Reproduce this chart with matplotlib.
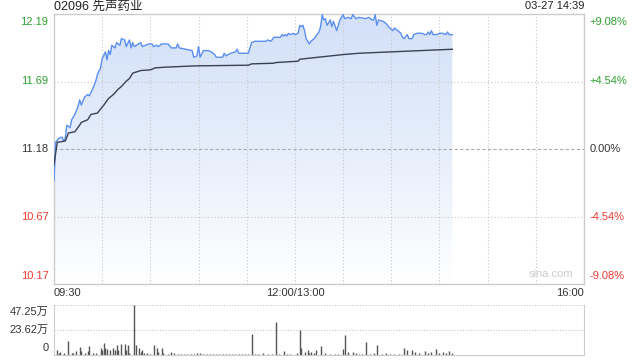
import numpy as np
import matplotlib
matplotlib.use("Agg")
import matplotlib.pyplot as plt
from matplotlib.colors import LinearSegmentedColormap

plt.rcParams['font.family'] = ['Liberation Sans', 'Noto Sans CJK SC', 'DejaVu Sans']

title = "02096 先声药业"
stamp = "03-27 14:39"
prev_close = 11.18

# minutes since 09:30 (lunch break removed), price
price_min = [0, 1, 3, 5, 6, 7, 8, 10, 11, 13, 15, 16, 17, 19, 21, 22, 24, 26, 27, 29,
             30, 32, 33, 34, 35, 36, 38, 39, 41, 42, 44, 45, 47, 48, 49, 50, 54, 55, 59, 61,
             62, 64, 65, 67, 69, 71, 73, 76, 77, 78, 82, 86, 87, 89, 90, 91, 93, 96, 98, 100,
             101, 105, 106, 107, 110, 113, 114, 115, 120, 121, 123, 125, 132, 133, 135, 137, 141, 142, 143, 144,
             145, 146, 147, 149, 150, 152, 153, 154, 155, 156, 157, 159, 160, 162, 165, 166, 167, 168, 169, 170,
             172, 173, 174, 176, 177, 178, 180, 181, 183, 185, 186, 188, 190, 194, 196, 198, 199, 200, 201, 202,
             205, 207, 209, 211, 212, 214, 216, 217, 218, 220, 221, 223, 224, 226, 229, 231, 232, 233, 234, 235,
             236, 238, 240, 242, 244, 245, 246, 248]
price = [10.94, 11.23, 11.26, 11.27, 11.24, 11.26, 11.36, 11.34, 11.40, 11.44, 11.50, 11.55, 11.51, 11.57, 11.59, 11.58, 11.63, 11.69, 11.74, 11.79,
         11.86, 11.91, 11.85, 11.92, 11.89, 11.96, 11.94, 11.98, 11.96, 12.01, 12.00, 11.95, 12.00, 11.94, 11.98, 11.95, 11.98, 11.95, 11.97, 11.97,
         11.95, 11.96, 11.95, 11.97, 11.97, 11.97, 11.94, 11.94, 11.97, 11.94, 11.93, 11.92, 11.87, 11.88, 11.95, 11.87, 11.92, 11.92, 11.91, 11.89,
         11.87, 11.87, 11.90, 11.88, 11.90, 11.91, 11.93, 11.90, 11.90, 11.90, 11.98, 11.99, 11.99, 12.00, 11.99, 12.02, 12.02, 12.04, 12.03, 12.04,
         12.03, 12.05, 12.04, 12.05, 12.04, 12.05, 12.11, 12.10, 12.11, 12.07, 12.01, 11.97, 11.99, 12.01, 12.06, 12.10, 12.19, 12.15, 12.16, 12.11,
         12.15, 12.10, 12.14, 12.07, 12.11, 12.15, 12.19, 12.16, 12.17, 12.16, 12.19, 12.16, 12.17, 12.16, 12.17, 12.15, 12.15, 12.19, 12.11, 12.15,
         12.14, 12.12, 12.09, 12.07, 12.09, 12.07, 12.05, 12.02, 12.01, 12.04, 12.01, 12.01, 12.04, 12.05, 12.05, 12.04, 12.04, 12.06, 12.04, 12.07,
         12.04, 12.04, 12.05, 12.05, 12.04, 12.06, 12.04, 12.04]

avg_min = [0, 2, 7, 9, 13, 16, 17, 21, 23, 27, 29, 31, 34, 37, 40, 42, 45, 47, 49, 54,
           60, 63, 69, 88, 121, 123, 137, 138, 152, 153, 180, 190, 248]
avg_price = [11.06, 11.23, 11.24, 11.30, 11.31, 11.36, 11.38, 11.40, 11.44, 11.45, 11.48, 11.51, 11.56, 11.59, 11.63, 11.65, 11.69, 11.71, 11.75, 11.77,
             11.775, 11.79, 11.795, 11.805, 11.81, 11.82, 11.825, 11.83, 11.84, 11.855, 11.89, 11.90, 11.93]

# volume in 万
vol_min = [2, 3, 4, 6, 9, 11, 12, 14, 16, 17, 19, 21, 22, 24, 26, 29, 30, 31, 32, 33,
           35, 37, 38, 39, 40, 42, 44, 45, 46, 47, 50, 51, 53, 54, 55, 56, 58, 60, 62, 64,
           65, 67, 68, 71, 73, 75, 77, 79, 81, 83, 85, 87, 89, 91, 93, 95, 97, 99, 101, 103,
           105, 107, 109, 111, 113, 115, 117, 119, 121, 123, 125, 127, 130, 133, 136, 138, 140, 143, 145, 147,
           151, 153, 154, 156, 158, 159, 160, 162, 163, 166, 169, 172, 175, 177, 180, 181, 183, 186, 188, 190,
           192, 194, 197, 199, 201, 204, 207, 209, 212, 215, 218, 220, 223, 225, 227, 231, 233, 235, 238, 240,
           242, 244, 246, 248]
vol = [4.4, 2.3, 2.5, 1.5, 13.2, 1.5, 1.5, 4.0, 7.6, 3.5, 1.8, 4.0, 8.5, 1.5, 2.0, 7.0, 5.0, 11.3, 7.0, 6.0,
       4.5, 7.0, 4.5, 9.4, 4.5, 10.6, 10.6, 4.5, 9.4, 2.0, 47.25, 9.4, 7.0, 3.0, 4.5, 2.0, 1.5, 1.0, 9.4, 6.2,
       3.0, 6.2, 1.5, 1.2, 3.2, 1.5, 0.8, 1.0, 0.7, 1.2, 0.8, 1.0, 1.5, 1.5, 0.8, 1.0, 0.7, 1.2, 1.0, 0.8,
       1.0, 1.2, 0.8, 1.0, 0.9, 1.0, 1.2, 0.8, 1.0, 20.0, 1.0, 1.2, 2.3, 1.0, 0.8, 31.0, 1.0, 3.5, 1.0, 1.2,
       2.3, 23.3, 6.6, 2.5, 4.4, 2.0, 2.5, 2.0, 4.4, 8.0, 2.0, 1.0, 1.2, 1.0, 6.0, 18.6, 3.0, 3.0, 1.5, 1.0,
       1.2, 12.3, 1.2, 1.5, 9.0, 1.2, 1.5, 1.0, 1.2, 1.0, 7.0, 4.4, 4.4, 3.0, 1.5, 3.5, 1.5, 3.0, 6.0, 1.5,
       3.0, 1.5, 4.0, 2.0]

price_ticks = [12.195, 11.6875, 11.18, 10.6725, 10.165]
price_labels = ["12.19", "11.69", "11.18", "10.67", "10.17"]
pct_labels = ["+9.08%", "+4.54%", "0.00%", "-4.54%", "-9.08%"]
vol_ticks = [47.25, 23.62, 0]
vol_labels = ["47.25万", "23.62万", "0"]

green = "#2ea12e"
red = "#ee3a32"
dark = "#333333"
tick_colors = [green, green, dark, red, red]

fig = plt.figure(figsize=(6.4, 3.6), dpi=100)
ax = fig.add_axes([54 / 640, 1 - 284 / 360, 530 / 640, 270 / 360])
vax = fig.add_axes([54 / 640, 1 - 355 / 360, 530 / 640, 50.3 / 360])

ymin, ymax = price_ticks[-1], price_ticks[0]
ax.set_xlim(0, 330)
ax.set_ylim(ymin, ymax)

# gradient fill under the price line
fill = ax.fill_between(price_min, price, ymin, color="none", lw=0)
cmap = LinearSegmentedColormap.from_list("g", ["#ffffff", "#e6eefb", "#d2e0f8"])
grad = np.linspace(0, 1, 256).reshape(-1, 1)
img = ax.imshow(grad, cmap=cmap, origin="lower", aspect="auto",
                extent=[0, 330, ymin, ymax], zorder=1)
img.set_clip_path(fill.get_paths()[0], transform=ax.transData)

ax.plot(price_min, price, color="#5b8ff0", lw=1.0, zorder=3)
ax.plot(avg_min, avg_price, color="#3a4152", lw=1.0, zorder=3)

# grid
for x in range(30, 330, 30):
    ax.axvline(x, color="#c8c8c8", lw=0.8, ls=(0, (1, 2)), zorder=2)
for y in price_ticks[1:-1]:
    if y == prev_close:
        ax.axhline(y, color="#aaaaaa", lw=0.8, ls=(0, (3, 2)), zorder=2)
    else:
        ax.axhline(y, color="#c8c8c8", lw=0.8, ls=(0, (1, 2)), zorder=2)

for s in ax.spines.values():
    s.set_color("#cccccc")
    s.set_linewidth(1)
ax.tick_params(length=0)
ax.set_xticks([])
ax.set_yticks([])

# left / right tick labels
for i, (v, lab, pl, c) in enumerate(zip(price_ticks, price_labels, pct_labels, tick_colors)):
    off = 0
    if i == 0:
        off = -6
    elif i == len(price_ticks) - 1:
        off = 6
    ax.annotate(lab, (0, v), xycoords=("axes fraction", "data"), xytext=(-4, off),
                textcoords="offset points", ha="right", va="center", color=c, fontsize=8)
    ax.annotate(pl, (1, v), xycoords=("axes fraction", "data"), xytext=(4, off),
                textcoords="offset points", ha="left", va="center", color=c, fontsize=8)

# x labels
ax.text(0, -0.033, "09:30", transform=ax.transAxes, ha="left", va="center", fontsize=8, color=dark)
ax.text(150 / 330, -0.033, "12:00/13:00", transform=ax.transAxes, ha="center", va="center", fontsize=8, color=dark)
ax.text(1, -0.033, "16:00", transform=ax.transAxes, ha="right", va="center", fontsize=8, color=dark)

ax.text(0, 1.028, title, transform=ax.transAxes, ha="left", va="center", fontsize=9, color="#222222")
ax.text(1, 1.028, stamp, transform=ax.transAxes, ha="right", va="center", fontsize=8, color="#222222")
ax.text(0.98, 0.02, "sina.com", transform=ax.transAxes, ha="right", va="bottom", fontsize=8, color="#cccccc")

# volume panel
vax.set_xlim(0, 330)
vax.set_ylim(0, 47.25)
vax.vlines(vol_min, 0, vol, color="#555555", lw=1.0)
for y in vol_ticks[:-1]:
    vax.axhline(y, color="#c8c8c8", lw=0.8, ls=(0, (1, 1.5)), zorder=0)
for s in vax.spines.values():
    s.set_color("#cccccc")
vax.spines["top"].set_visible(False)
vax.set_xticks([])
vax.set_yticks([])
for i, (v, lab) in enumerate(zip(vol_ticks, vol_labels)):
    off = 0
    if i == 0:
        off = -5
    elif i == len(vol_ticks) - 1:
        off = 5
    vax.annotate(lab, (0, v), xycoords=("axes fraction", "data"), xytext=(-4, off),
                 textcoords="offset points", ha="right", va="center", color=dark, fontsize=8)

fig.savefig("out.png", dpi=100)
